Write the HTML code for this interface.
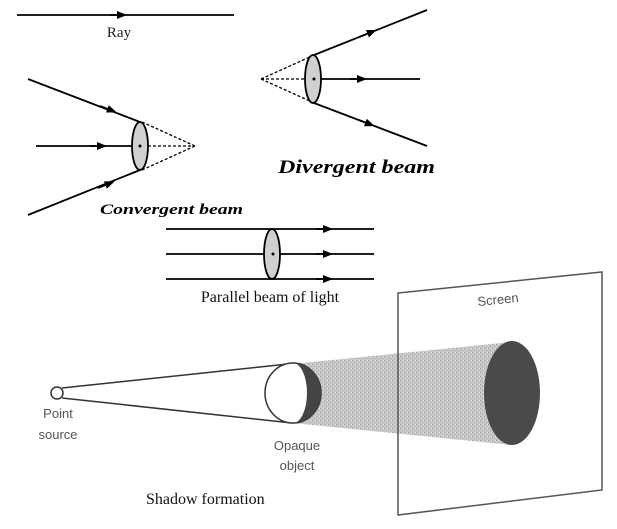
<!DOCTYPE html>
<html><head><style>
html,body{margin:0;padding:0;background:#fff;}
svg{display:block}
</style></head><body>
<svg width="617" height="529" viewBox="0 0 617 529" xmlns="http://www.w3.org/2000/svg">
<defs>
<marker id="a" viewBox="0 0 10 10" refX="5" refY="5" markerWidth="10" markerHeight="10" orient="auto" markerUnits="userSpaceOnUse"><path d="M0,1 L10,5 L0,9 Z" fill="#000"/></marker>
<pattern id="st" width="4" height="4" patternUnits="userSpaceOnUse"><rect width="4" height="4" fill="#c8c8c8"/><rect x="0" y="0" width="1" height="1" fill="#999"/><rect x="2" y="2" width="1" height="1" fill="#aaa"/><rect x="3" y="0" width="1" height="1" fill="#e4e4e4"/></pattern>
</defs>
<g stroke="#000" stroke-width="1.8" fill="none">
<line x1="17" y1="15" x2="234" y2="15"/>
<line x1="110" y1="15" x2="122" y2="15" marker-end="url(#a)"/>
<line x1="28" y1="79" x2="140" y2="122"/>
<line x1="28" y1="215" x2="140" y2="170"/>
<line x1="36" y1="146" x2="140" y2="146"/>
<line x1="100" y1="106" x2="112" y2="110.6" marker-end="url(#a)"/>
<line x1="98" y1="188" x2="110" y2="183.2" marker-end="url(#a)"/>
<line x1="90" y1="146" x2="102" y2="146" marker-end="url(#a)"/>
<g stroke-dasharray="3,2" stroke-width="1.3">
<line x1="142" y1="122" x2="195" y2="146"/><line x1="142" y1="170" x2="195" y2="146"/><line x1="148" y1="146" x2="195" y2="146"/>
</g>
<ellipse cx="140" cy="146" rx="8" ry="24" fill="#d0d0d0"/>
<line x1="314" y1="55" x2="427" y2="10"/>
<line x1="314" y1="103" x2="427" y2="146"/>
<line x1="314" y1="79" x2="420" y2="79"/>
<line x1="360" y1="36.7" x2="372" y2="31.9" marker-end="url(#a)"/>
<line x1="358" y1="119.7" x2="370" y2="124.3" marker-end="url(#a)"/>
<line x1="350" y1="79" x2="362" y2="79" marker-end="url(#a)"/>
<g stroke-dasharray="3,2" stroke-width="1.3">
<line x1="261" y1="79" x2="312" y2="56"/><line x1="261" y1="79" x2="312" y2="102"/><line x1="261" y1="79" x2="306" y2="79"/>
</g>
<ellipse cx="313" cy="79" rx="8" ry="24" fill="#d0d0d0"/>
<line x1="166" y1="229" x2="374" y2="229"/>
<line x1="166" y1="254" x2="374" y2="254"/>
<line x1="166" y1="279" x2="374" y2="279"/>
<line x1="316" y1="229" x2="328" y2="229" marker-end="url(#a)"/>
<line x1="316" y1="254" x2="328" y2="254" marker-end="url(#a)"/>
<line x1="316" y1="279" x2="328" y2="279" marker-end="url(#a)"/>
<ellipse cx="272" cy="254" rx="8" ry="25" fill="#d0d0d0"/>
</g>
<circle cx="140" cy="146" r="1.5"/><circle cx="314" cy="79" r="1.5"/><circle cx="273" cy="254" r="1.5"/>
<g font-family="'Liberation Serif',serif">
<text x="119" y="37" font-size="15" text-anchor="middle" fill="#222">Ray</text>
<text x="100" y="214" font-size="15" font-weight="bold" font-style="italic" textLength="143" lengthAdjust="spacingAndGlyphs">Convergent beam</text>
<text x="278" y="173" font-size="19" font-weight="bold" font-style="italic" textLength="157" lengthAdjust="spacingAndGlyphs">Divergent beam</text>
<text x="270" y="302" font-size="16" text-anchor="middle" fill="#111">Parallel beam of light</text>
<text x="146" y="504" font-size="16" fill="#111">Shadow formation</text>
</g>
<polygon points="293,364 512,342 512,445 293,423" fill="url(#st)"/>
<polygon points="398,293 602,272 602,490 398,515" fill="none" stroke="#555" stroke-width="1.5"/>
<ellipse cx="512" cy="393" rx="28" ry="52" fill="#4a4a4a"/>
<line x1="62" y1="388" x2="288" y2="364" stroke="#333" stroke-width="1.5"/>
<line x1="62" y1="398" x2="292" y2="423" stroke="#333" stroke-width="1.5"/>
<circle cx="57" cy="393" r="6" fill="#fff" stroke="#333" stroke-width="1.5"/>
<ellipse cx="293" cy="393" rx="28" ry="30" fill="#fff" stroke="#333" stroke-width="1.5"/>
<path d="M293,363 A28,30 0 0 1 293,423 A14,30 0 0 0 293,363 Z" fill="#444"/>
<g font-family="'Liberation Sans',sans-serif" font-size="13" fill="#555" text-anchor="middle">
<text x="58" y="418">Point</text><text x="58" y="439">source</text>
<text x="297" y="450">Opaque</text><text x="297" y="470">object</text>
<text x="498" y="304" transform="rotate(-6 498 300)">Screen</text>
</g>
</svg>
</body></html>
